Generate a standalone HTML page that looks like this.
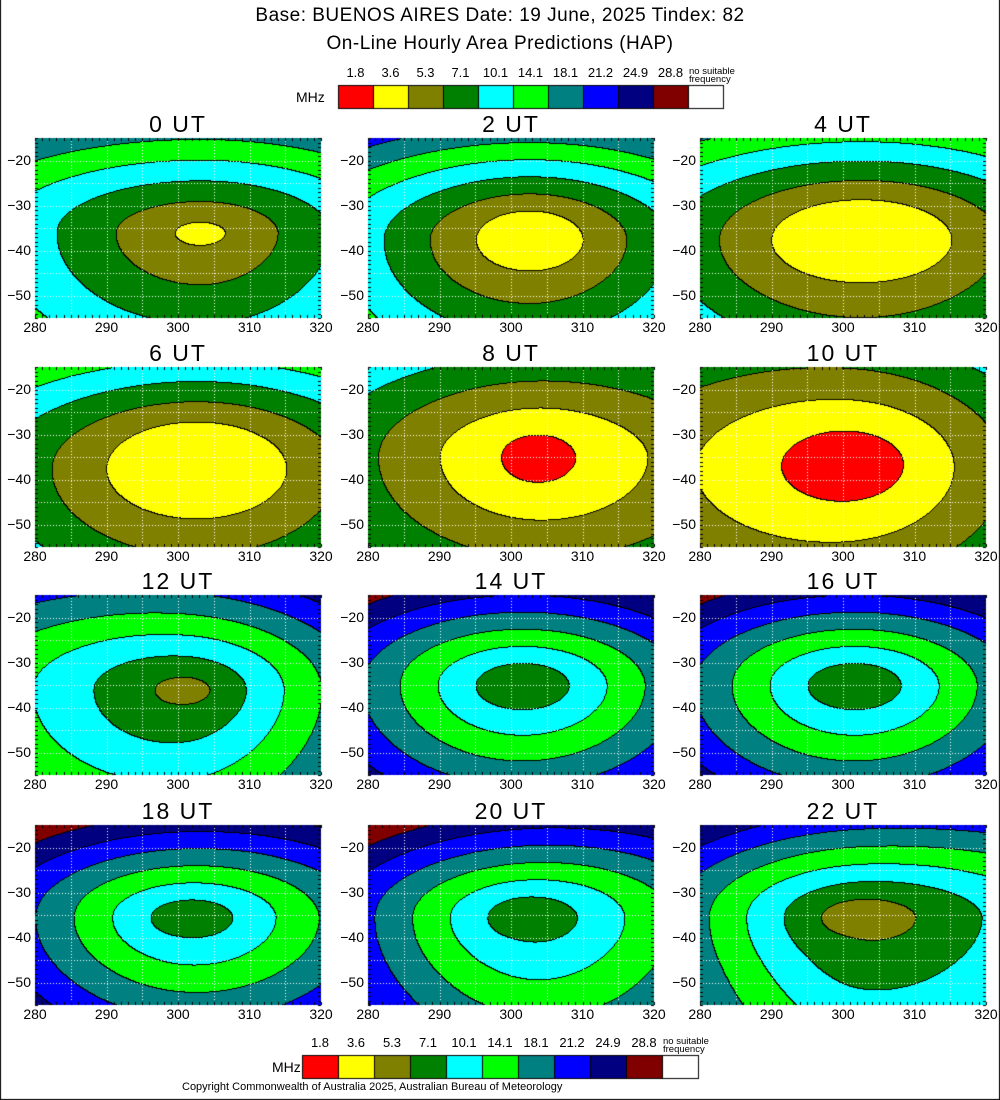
<!DOCTYPE html>
<html><head><meta charset="utf-8"><style>
html,body{margin:0;padding:0;background:#fff}
body{width:1000px;height:1100px;position:relative;overflow:hidden;font-family:"Liberation Sans",sans-serif;color:#000}
.t{position:absolute;white-space:nowrap}
canvas{position:absolute;left:0;top:0}
</style></head><body>
<canvas id="c" width="1000" height="1100"></canvas>
<div class="t" style="left:0;width:1000px;text-align:center;top:5px;font-size:19px;letter-spacing:0.5px">Base: BUENOS AIRES Date: 19 June, 2025 Tindex: 82</div>
<div class="t" style="left:0;width:1000px;text-align:center;top:33px;font-size:19px;letter-spacing:0.5px">On-Line Hourly Area Predictions (HAP)</div>
<div id="o"></div>
<script>
var C=["#ff0000","#ffff00","#808000","#008000","#00ffff","#00ff00","#008080","#0000ff","#000080","#800000","#ffffff"];
var L=["1.8","3.6","5.3","7.1","10.1","14.1","18.1","21.2","24.9","28.8"];
var cv=document.getElementById('c'),g=cv.getContext('2d'),o=document.getElementById('o');
function txt(s,x,y,fs,al,ls){var d=document.createElement('div');d.className='t';d.textContent=s;d.style.fontSize=fs+'px';d.style.top=y+'px';if(ls)d.style.letterSpacing=ls+'px';
 if(al=='c'){d.style.left=(x-100)+'px';d.style.width='200px';d.style.textAlign='center'}else if(al=='r'){d.style.left=(x-100)+'px';d.style.width='100px';d.style.textAlign='right'}else d.style.left=x+'px';o.appendChild(d)}
function legend(x0,y0,bw,bh,mx){
 for(var i=0;i<11;i++){g.fillStyle=C[i];g.fillRect(x0+i*bw,y0,bw,bh);g.strokeStyle='#000';g.lineWidth=1;g.strokeRect(x0+i*bw+0.5,y0+0.5,bw,bh);
  if(i<10)txt(L[i],x0+i*bw+bw/2,y0-20,13,'c');}
 txt('no suitable',x0+10*bw+1,y0-19,9.5);txt('frequency',x0+10*bw+1,y0-11,9.5);
 txt('MHz',mx,y0+bh-19,14);}
legend(338,85,35,23,296);
legend(302,1055,36,23,272);
txt('Copyright Commonwealth of Australia 2025, Australian Bureau of Meteorology',182,1081,11);
// cx,cy,axl,axr,ayb,c,r0,w,gx,gy,ain
var P=[
[303,-36,1.8,1.6,1.9,1,2.5,4.6,0,0,1.4],
[302.5,-37.5,1.7,1.6,1.9,1,6.5,3.8,0,0,1.15],
[302.5,-37.5,1.7,1.6,1.8,1,9,4.3,0,0,1.4],
[302.5,-37.5,1.7,1.6,1.8,1,10.5,4.5,0,0,1.2],
[303.5,-35,1.5,1.6,1.4,0,5,6,-0.005,0,1.0],
[301,-36,1.35,1.05,1.1,0,7.5,7.5,0.015,0.01,1.1],
[301,-36,1.5,1.3,1.8,2,3,4.7,0.025,0,1.25],
[301.5,-35,1.4,1.4,1.5,3,5,3.8,0,0,1.3],
[301.5,-35,1.4,1.4,1.5,3,5,3.8,0,0,1.3],
[301.5,-35.5,1.5,1.5,1.6,3,4,3.8,-0.01,0,1.4],
[302,-35.5,1.6,1.5,2.2,3,4.5,3.8,-0.025,0,1.3],
[302.5,-35.5,1.5,2,2.8,2,4,3.9,-0.02,0,1.5]];
var XS=[35,368,700],YS=[138,367,595,825],W=286,H=180,T=["0","2","4","6","8","10","12","14","16","18","20","22"];
for(var k=0;k<12;k++){var p=P[k],x0=XS[k%3],y0=YS[Math.floor(k/3)];
 var b=[];for(var j=0;j<H;j++){b[j]=[];for(var i=0;i<W;i++){var lon=280+40*i/W,lat=-15-40*j/H;
  var ex=lon-p[0],ey=lat-p[1];
  var dx2=ex/(ex<0?p[2]:p[3]),dy2=ey<0?ey/p[4]:ey;var d2=Math.sqrt(dx2*dx2+dy2*dy2);
  var dx1=ex/p[10],dy1=ey<0?ey/1.05:ey;var d1=Math.sqrt(dx1*dx1+dy1*dy1)+1e-6;
  var f=d1<p[6]?d1/p[6]*0.999:1+d2*(1-p[6]/d1)/p[7];
  var v=p[5]+f+p[8]*(lon-300)+p[9]*(lat+35);v=Math.max(p[5],Math.min(10,Math.floor(v)));b[j][i]=v;}}
 for(var j=0;j<H;j++)for(var i=0;i<W;i++){var v=b[j][i];var e=(i>0&&b[j][i-1]!=v)||(j>0&&b[j-1][i]!=v);
  g.fillStyle=e?'#000':C[v];g.fillRect(x0+i,y0+j,1,1);}
 g.fillStyle='#fff';
 for(var a=1;a<8;a++){var gxp=Math.round(x0+a*W/8);for(var j=0;j<H;j+=3)g.fillRect(gxp,y0+j,1,1);}
 for(var a=1;a<8;a++){var gyp=Math.round(y0+a*H/8);for(var i=0;i<W;i+=3)g.fillRect(x0+i,gyp,1,1);}
 g.fillStyle='#000';
 for(var a=0;a<=40;a++){var xx=Math.round(x0+a*W/40),yy=Math.round(y0+a*H/40);
  g.fillRect(xx,y0,1,3);g.fillRect(xx,y0+H-3,1,3);g.fillRect(x0,yy,3,1);g.fillRect(x0+W-3,yy,3,1);}
 txt(T[k]+' UT',x0+W/2,y0-27,23,'c',2);
 var lats=[-20,-30,-40,-50];for(var q=0;q<4;q++)txt(String(lats[q]).replace('-','\u2212'),x0-4,y0+(-15-lats[q])*4.5-9,14,'r');
 for(var q=0;q<5;q++)txt(String(280+q*10),x0+q*W/4,y0+H+1,14,'c');
}
g.fillStyle='#000';g.fillRect(0,0,1,1100);g.fillRect(999,0,1,1100);g.fillRect(0,1099,1000,1);
</script>
</body></html>
